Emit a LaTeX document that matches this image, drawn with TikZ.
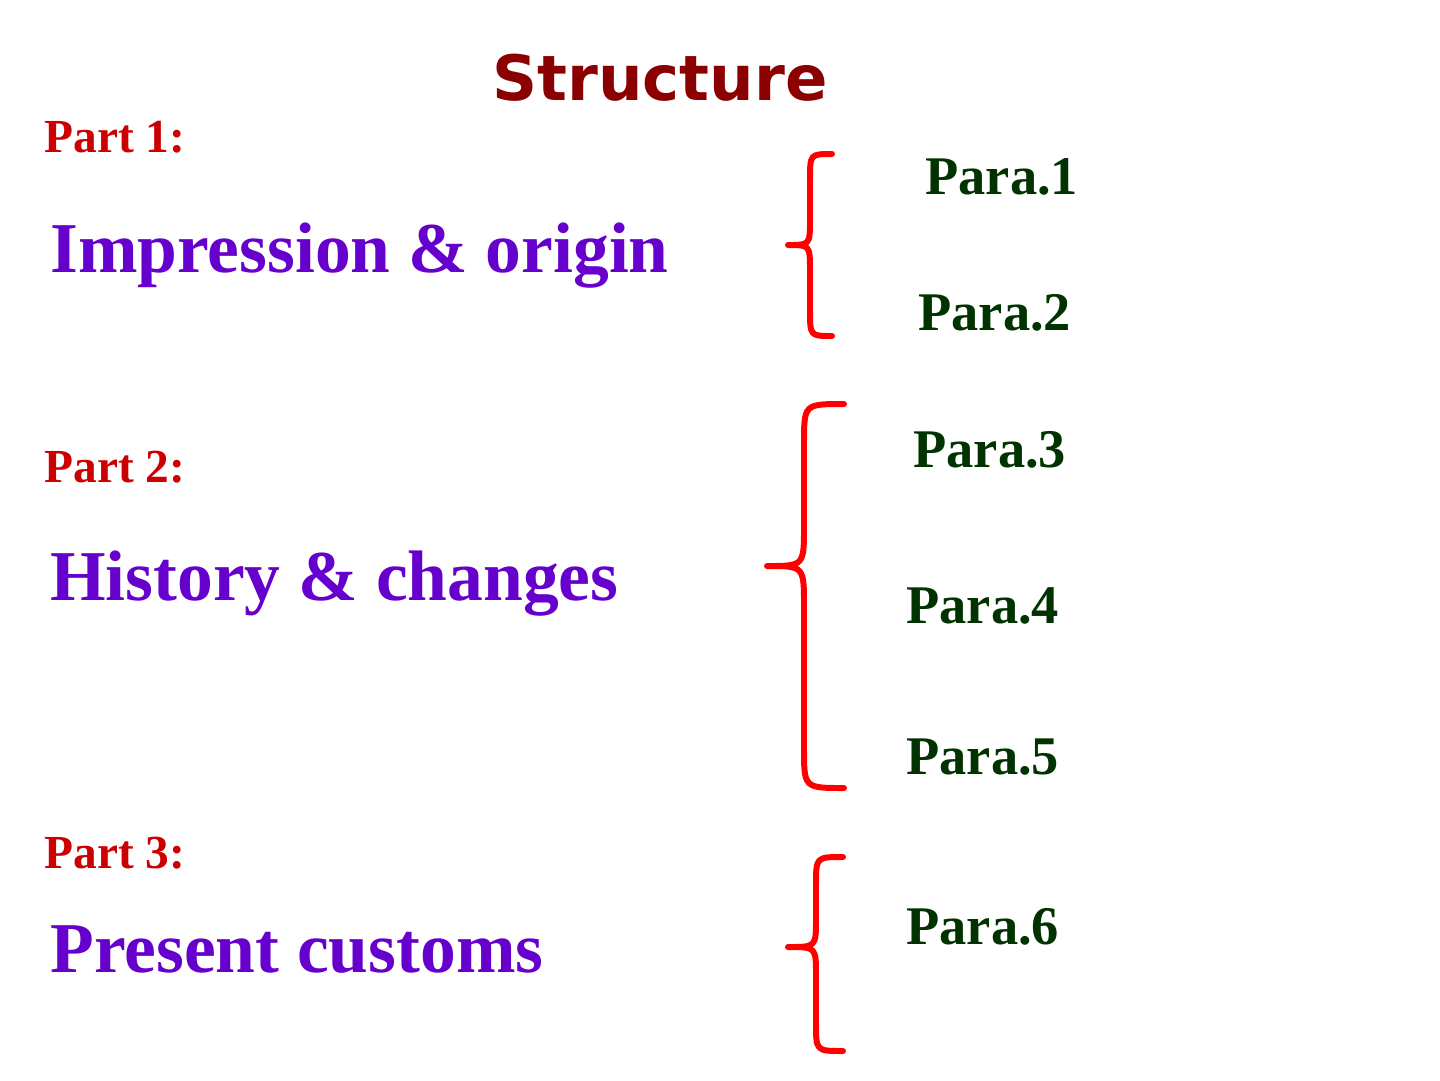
\documentclass[tikz,border=0pt]{standalone}
\usepackage{fontspec}
\setmainfont{Liberation Serif}
\newfontfamily\titlefont{DejaVu Sans}
\usepackage{xcolor}
\definecolor{titleRed}{HTML}{8B0000}
\definecolor{partRed}{HTML}{CC0000}
\definecolor{topicPurple}{HTML}{6600CC}
\definecolor{paraGreen}{HTML}{003300}
\definecolor{braceRed}{HTML}{FF0000}
\usetikzlibrary{positioning}
% #1 tip x, #2 stem x, #3 point x, #4 top y, #5 point y, #6 bottom y, #7 curve radius
\newcommand{\redBrace}[7]{%
  \draw[braceLine] (#1,#4) .. controls (#2,#4) .. (#2,#4+#7) -- (#2,#5-#7)
    .. controls (#2,#5) .. (#3,#5) .. controls (#2,#5) .. (#2,#5+#7)
    -- (#2,#6-#7) .. controls (#2,#6) .. (#1,#6);}

\begin{document}
\begin{tikzpicture}[
    x=0.02cm, y=-0.02cm,
    titleNode/.style={anchor=base, inner sep=0pt, font=\titlefont\bfseries\fontsize{35.6}{40}\selectfont, text=titleRed},
    partNode/.style={anchor=base west, inner sep=0pt, font=\bfseries\fontsize{27}{30}\selectfont, text=partRed},
    topicNode/.style={anchor=base west, inner sep=0pt, font=\bfseries\fontsize{40.7}{44}\selectfont, text=topicPurple},
    paraNode/.style={anchor=base west, inner sep=0pt, font=\bfseries\fontsize{31}{34}\selectfont, text=paraGreen},
    braceLine/.style={draw=braceRed, line width=3.4pt, line cap=round, line join=round}
]
\useasboundingbox (0,0) rectangle (1440,1080);

% Title
\node[titleNode] (title) at (660,100) {Structure};

% Part 1
\node[partNode] (part1) at (44,152) {Part 1:};
\node[topicNode] (topic1) at (50,272) {Impression \& origin};
\redBrace{832}{810}{788}{154}{245}{336}{26}
\node[paraNode] (para1) at (925,194) {Para.1};
\node[paraNode] (para2) at (918,330) {Para.2};

% Part 2
\node[partNode] (part2) at (44,482) {Part 2:};
\node[topicNode] (topic2) at (50,600) {History \& changes};
\redBrace{844}{804}{767}{404}{566}{788}{40}
\node[paraNode] (para3) at (913,467) {Para.3};
\node[paraNode] (para4) at (906,623) {Para.4};
\node[paraNode] (para5) at (906,774) {Para.5};

% Part 3
\node[partNode] (part3) at (44,868) {Part 3:};
\node[topicNode] (topic3) at (50,972) {Present customs};
\redBrace{843}{816}{788}{857}{947}{1051}{28}
\node[paraNode] (para6) at (906,944) {Para.6};

\end{tikzpicture}
\end{document}
